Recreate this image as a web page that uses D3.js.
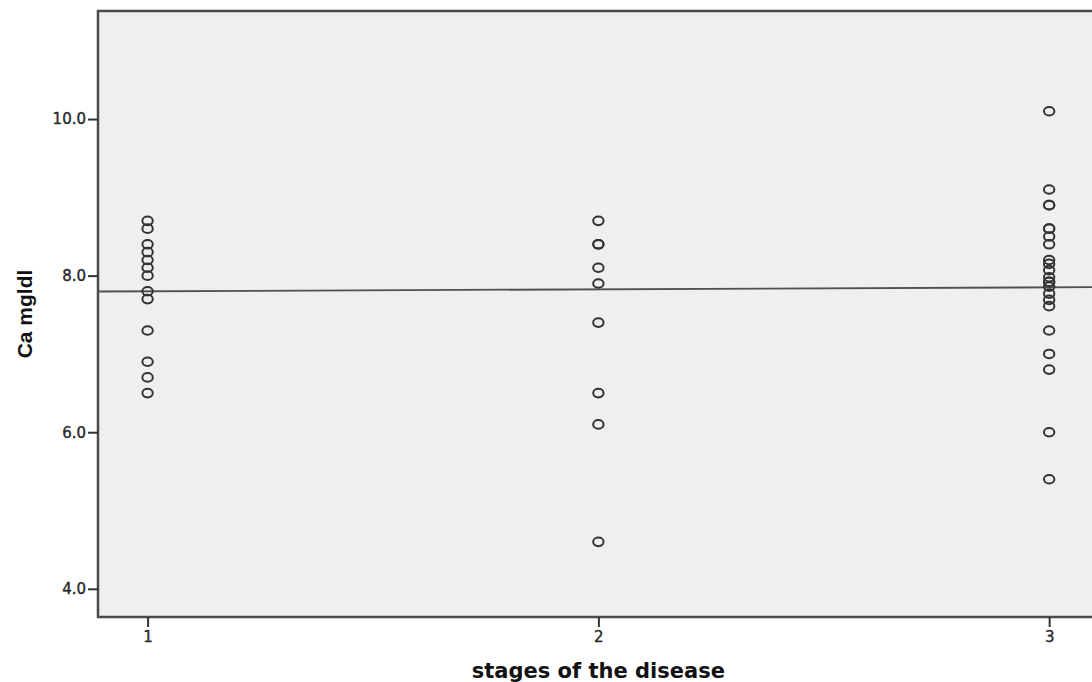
<!DOCTYPE html>
<html>
<head>
<meta charset="utf-8">
<script src="https://cdn.jsdelivr.net/npm/d3@7"></script>
<style>
body { margin: 0; background: #ffffff; }
</style>
</head>
<body>
<script>

// values, one array per stage
var stages = [1, 2, 3];
var stage1 = [8.7, 8.6, 8.4, 8.3, 8.2, 8.1, 8.0, 7.8, 7.7, 7.3, 6.9, 6.7, 6.5];
var stage2 = [8.7, 8.4, 8.4, 8.1, 7.9, 7.4, 6.5, 6.1, 4.6];
var stage3 = [10.1, 9.1, 8.9, 8.9, 8.6, 8.6, 8.5, 8.4, 8.2, 8.15, 8.07, 7.98, 7.92, 7.92,
              7.86, 7.77, 7.69, 7.61, 7.3, 7.0, 6.8, 6.0, 5.4];
var yTicks = [4, 6, 8, 10];
// fit line value at stage 1 and stage 3
var fitStage = [1, 3];
var fitValue = [7.80, 7.85];

var w = 1092;
var h = 682;

var plotLeft = 98, plotRight = 1101, plotTop = 11, plotBottom = 617;

var xScale = d3.scaleLinear()
				.domain([0.89, 3.115])
				.range([plotLeft, plotRight]);

var yScale = d3.scaleLinear()
				.domain([3.64, 11.38])
				.range([plotBottom, plotTop]);

var data = [];
[stage1, stage2, stage3].forEach(function(vals, i){
	vals.forEach(function(v){ data.push({stage: stages[i], val: v}); });
});

var svg = d3.select("body")
			.append("svg")
			.attr("width", w)
			.attr("height", h);

svg.append("rect")
	.attr("x", plotLeft)
	.attr("y", plotTop)
	.attr("width", plotRight - plotLeft)
	.attr("height", plotBottom - plotTop)
	.attr("fill", "#efefef")
	.attr("stroke", "#4a4a4a")
	.attr("stroke-width", 2.5);

var yAxis = d3.axisLeft(yScale)
			.tickValues(yTicks)
			.tickFormat(d3.format(".1f"))
			.tickSize(10)
			.tickPadding(2);

var xAxis = d3.axisBottom(xScale)
			.tickValues(stages)
			.tickFormat(d3.format("d"))
			.tickSize(10)
			.tickPadding(4);

var appendY = svg.append("g")
			.attr("transform", "translate(" + plotLeft + ",0)")
			.call(yAxis);

var appendX = svg.append("g")
			.attr("transform", "translate(0," + plotBottom + ")")
			.call(xAxis);

svg.selectAll(".domain").remove();

svg.selectAll(".tick line")
	.attr("stroke", "#333")
	.attr("stroke-width", 2);

svg.selectAll(".tick text")
	.attr("font-family", "DejaVu Sans, Verdana, sans-serif")
	.attr("font-size", "15px")
	.attr("fill", "#2a2a2a")
	.attr("stroke", "#2a2a2a")
	.attr("stroke-width", 0.4);

// fit line, extended over the whole plot width
var slope = (fitValue[1] - fitValue[0]) / (fitStage[1] - fitStage[0]);
var xd = xScale.domain();
var line = d3.line()
			.x(function(d){ return xScale(d); })
			.y(function(d){ return yScale(fitValue[0] + slope * (d - fitStage[0])); });

svg.append("path")
	.attr("d", line(xd))
	.attr("fill", "none")
	.attr("stroke", "#505050")
	.attr("stroke-width", 1.8);

svg.selectAll("ellipse.pt")
	.data(data)
	.enter()
	.append("ellipse")
	.attr("class", "pt")
	.attr("cx", function(d){ return xScale(d.stage); })
	.attr("cy", function(d){ return yScale(d.val); })
	.attr("rx", 5.2)
	.attr("ry", 4.3)
	.attr("fill", "none")
	.attr("stroke", "#333")
	.attr("stroke-width", 2);

svg.append("text")
	.attr("x", xScale(2))
	.attr("y", 678)
	.attr("text-anchor", "middle")
	.attr("font-family", "DejaVu Sans, Verdana, sans-serif")
	.attr("font-weight", "bold")
	.attr("font-size", "21px")
	.attr("fill", "#111")
	.text("stages of the disease");

svg.append("text")
	.attr("transform", "translate(32," + ((plotTop + plotBottom) / 2) + ") rotate(-90)")
	.attr("text-anchor", "middle")
	.attr("font-family", "Liberation Sans Narrow, Arial Narrow, Liberation Sans, sans-serif")
	.attr("font-weight", "bold")
	.attr("font-size", "21px")
	.attr("fill", "#111")
	.text("Ca mgldl");

</script>
</body>
</html>
